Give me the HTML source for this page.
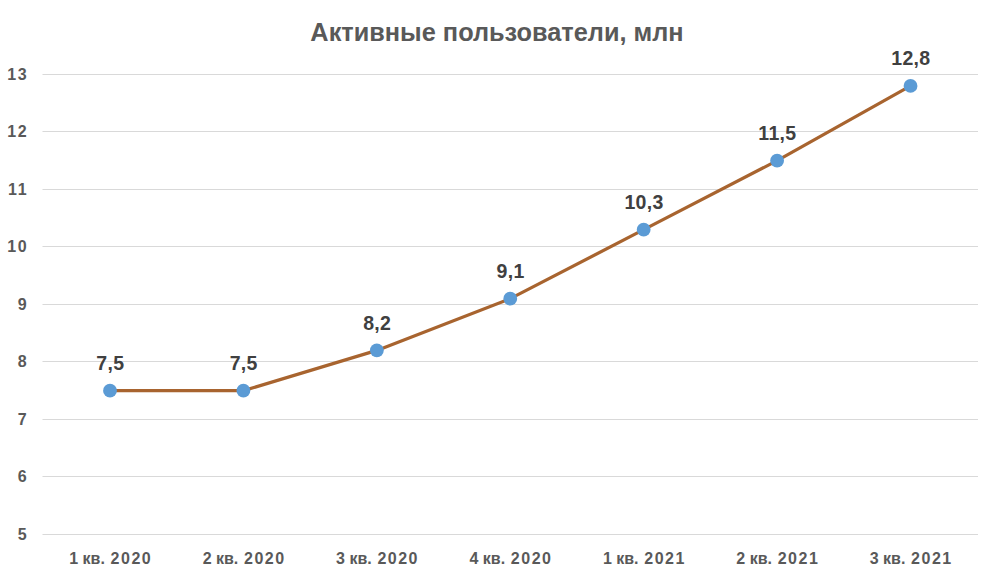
<!DOCTYPE html>
<html><head><meta charset="utf-8"><style>
html,body{margin:0;padding:0;background:#fff;width:985px;height:575px;overflow:hidden}
svg{display:block}
text{font-family:"Liberation Sans",sans-serif;font-weight:bold}
.title{font-size:26px;fill:#595959}
.ax{font-size:16px;fill:#595959;letter-spacing:1.6px}
.cat{font-size:16px;fill:#595959}
.yr{letter-spacing:1.5px}
.dl{font-size:19.5px;fill:#404040;letter-spacing:0.3px}
</style></head><body>
<svg width="985" height="575" viewBox="0 0 985 575">
<rect width="985" height="575" fill="#fff"/>
<line x1="42.5" y1="534.5" x2="978" y2="534.5" stroke="#d9d9d9" stroke-width="1"/>
<text class="ax" x="28.2" y="540.0" text-anchor="end">5</text>
<line x1="42.5" y1="476.5" x2="978" y2="476.5" stroke="#d9d9d9" stroke-width="1"/>
<text class="ax" x="28.2" y="482.0" text-anchor="end">6</text>
<line x1="42.5" y1="419.5" x2="978" y2="419.5" stroke="#d9d9d9" stroke-width="1"/>
<text class="ax" x="28.2" y="425.0" text-anchor="end">7</text>
<line x1="42.5" y1="361.5" x2="978" y2="361.5" stroke="#d9d9d9" stroke-width="1"/>
<text class="ax" x="28.2" y="367.0" text-anchor="end">8</text>
<line x1="42.5" y1="304.5" x2="978" y2="304.5" stroke="#d9d9d9" stroke-width="1"/>
<text class="ax" x="28.2" y="310.0" text-anchor="end">9</text>
<line x1="42.5" y1="246.5" x2="978" y2="246.5" stroke="#d9d9d9" stroke-width="1"/>
<text class="ax" x="28.2" y="252.0" text-anchor="end">10</text>
<line x1="42.5" y1="189.5" x2="978" y2="189.5" stroke="#d9d9d9" stroke-width="1"/>
<text class="ax" x="28.2" y="195.0" text-anchor="end">11</text>
<line x1="42.5" y1="131.5" x2="978" y2="131.5" stroke="#d9d9d9" stroke-width="1"/>
<text class="ax" x="28.2" y="137.0" text-anchor="end">12</text>
<line x1="42.5" y1="74.5" x2="978" y2="74.5" stroke="#d9d9d9" stroke-width="1"/>
<text class="ax" x="28.2" y="80.0" text-anchor="end">13</text>
<text class="title" transform="translate(497 40.5) scale(0.974 1)" x="0" y="0" text-anchor="middle">Активные пользователи, млн</text>
<polyline points="110.00,390.65 243.42,390.65 376.84,350.40 510.26,298.65 643.68,229.65 777.10,160.65 910.52,85.90" fill="none" stroke="#A8642F" stroke-width="3.25" stroke-linejoin="round"/>
<circle cx="110.00" cy="390.65" r="6.9" fill="#5B9BD5"/>
<circle cx="243.42" cy="390.65" r="6.9" fill="#5B9BD5"/>
<circle cx="376.84" cy="350.40" r="6.9" fill="#5B9BD5"/>
<circle cx="510.26" cy="298.65" r="6.9" fill="#5B9BD5"/>
<circle cx="643.68" cy="229.65" r="6.9" fill="#5B9BD5"/>
<circle cx="777.10" cy="160.65" r="6.9" fill="#5B9BD5"/>
<circle cx="910.52" cy="85.90" r="6.9" fill="#5B9BD5"/>
<text class="dl" x="110.30" y="369.75" text-anchor="middle">7,5</text>
<text class="dl" x="243.72" y="369.75" text-anchor="middle">7,5</text>
<text class="dl" x="377.14" y="329.50" text-anchor="middle">8,2</text>
<text class="dl" x="510.56" y="277.75" text-anchor="middle">9,1</text>
<text class="dl" x="643.98" y="208.75" text-anchor="middle">10,3</text>
<text class="dl" x="777.40" y="139.75" text-anchor="middle">11,5</text>
<text class="dl" x="910.82" y="65.00" text-anchor="middle">12,8</text>
<text class="cat" x="110.70" y="564" text-anchor="middle">1 кв. <tspan dx="1.3" class="yr">2020</tspan></text>
<text class="cat" x="244.12" y="564" text-anchor="middle">2 кв. <tspan dx="1.3" class="yr">2020</tspan></text>
<text class="cat" x="377.54" y="564" text-anchor="middle">3 кв. <tspan dx="1.3" class="yr">2020</tspan></text>
<text class="cat" x="510.96" y="564" text-anchor="middle">4 кв. <tspan dx="1.3" class="yr">2020</tspan></text>
<text class="cat" x="644.38" y="564" text-anchor="middle">1 кв. <tspan dx="1.3" class="yr">2021</tspan></text>
<text class="cat" x="777.80" y="564" text-anchor="middle">2 кв. <tspan dx="1.3" class="yr">2021</tspan></text>
<text class="cat" x="911.22" y="564" text-anchor="middle">3 кв. <tspan dx="1.3" class="yr">2021</tspan></text>
</svg>
</body></html>
